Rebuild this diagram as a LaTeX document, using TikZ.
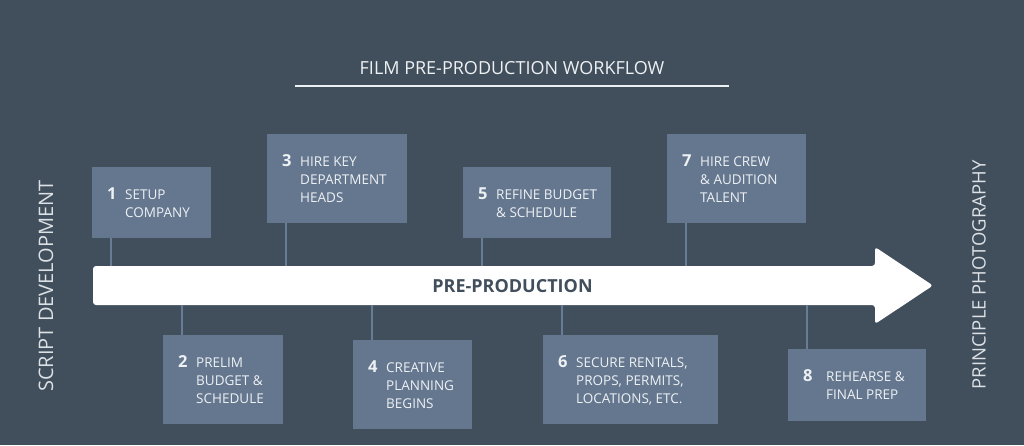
\documentclass[tikz,border=0pt]{standalone}
\usepackage{fontspec}
\setmainfont{Open Sans}
\usetikzlibrary{calc}
\definecolor{bgc}{RGB}{65,78,92}
\definecolor{boxc}{RGB}{100,119,143}
\definecolor{linec}{RGB}{104,124,150}
\definecolor{boxtext}{RGB}{238,241,244}
\definecolor{sidetext}{RGB}{220,225,230}
\definecolor{arrowtext}{RGB}{65,78,92}
\newcommand{\stepitem}[3][18pt]{%
  \makebox[#1][l]{\fontsize{16.5}{18}\selectfont\bfseries #2}%
  \fontsize{13.5}{18}\selectfont
  \begin{tabular}[t]{@{}l@{}}#3\end{tabular}}
\tikzset{
  stepbox/.style={fill=boxc, draw=none, inner sep=0pt, anchor=north west},
  steptext/.style={text=boxtext, inner sep=0pt, anchor=west, align=left},
  conn/.style={draw=linec, line width=1.6pt},
  sidelabel/.style={text=sidetext, rotate=90, inner sep=0pt},
}
\begin{document}
\begin{tikzpicture}[x=1pt,y=-1pt]
\useasboundingbox (0,0) rectangle (1024,445);
\fill[bgc] (0,0) rectangle (1024,445);

% title
\node[text=boxtext, font=\fontsize{18}{20}\selectfont, anchor=base, inner sep=0pt] (title) at (512,74) {FILM PRE-PRODUCTION WORKFLOW};
\draw[boxtext, line width=2pt] (295,86) -- (729,86);

% side labels
\node[sidelabel, font=\fontsize{20}{22}\selectfont] (script) at (46,286) {SCRIPT DEVELOPMENT};
\node[sidelabel, font=\fontsize{18.5}{20}\selectfont] (principle) at (979,275) {PRINCIPLE PHOTOGRAPHY};

% arrow
\coordinate (atop) at (0,266);
\coordinate (abot) at (0,305);
\fill[white, rounded corners=3pt] (93,266) -- (875,266) -- (875,247) -- (933,285.5) -- (875,324) -- (875,305) -- (93,305) -- cycle;
\node[text=arrowtext, font=\fontsize{18}{20}\selectfont\bfseries, anchor=base, inner sep=0pt] (pre) at (512.5,292) {PRE-PRODUCTION};

% boxes
\node[stepbox, minimum width=119pt, minimum height=71pt] (b1) at (92,167) {};
\node[stepbox, minimum width=120pt, minimum height=89pt] (b2) at (163,335) {};
\node[stepbox, minimum width=140pt, minimum height=89pt] (b3) at (267,134) {};
\node[stepbox, minimum width=119pt, minimum height=89pt] (b4) at (353,340) {};
\node[stepbox, minimum width=148pt, minimum height=71pt] (b5) at (463,167) {};
\node[stepbox, minimum width=175pt, minimum height=89pt] (b6) at (543,335) {};
\node[stepbox, minimum width=139pt, minimum height=89pt] (b7) at (667,134) {};
\node[stepbox, minimum width=138pt, minimum height=72pt] (b8) at (788,349) {};

% texts
\node[steptext] (t1) at ([xshift=15pt,yshift=-2pt]b1.west) {\stepitem{1}{SETUP\\COMPANY}};
\node[steptext] (t2) at ([xshift=15pt,yshift=-2pt]b2.west) {\stepitem{2}{PRELIM\\BUDGET \&\\SCHEDULE}};
\node[steptext] (t3) at ([xshift=15pt,yshift=-2pt]b3.west) {\stepitem{3}{HIRE KEY\\DEPARTMENT\\HEADS}};
\node[steptext] (t4) at ([xshift=15pt,yshift=-2pt]b4.west) {\stepitem{4}{CREATIVE\\PLANNING\\BEGINS}};
\node[steptext] (t5) at ([xshift=15pt,yshift=-2pt]b5.west) {\stepitem{5}{REFINE BUDGET\\\& SCHEDULE}};
\node[steptext] (t6) at ([xshift=15pt,yshift=-2pt]b6.west) {\stepitem{6}{SECURE RENTALS,\\PROPS, PERMITS,\\LOCATIONS, ETC.}};
\node[steptext] (t7) at ([xshift=15pt,yshift=-2pt]b7.west) {\stepitem{7}{HIRE CREW\\\& AUDITION\\TALENT}};
\node[steptext] (t8) at ([xshift=15pt,yshift=-2pt]b8.west) {\stepitem[23pt]{8}{REHEARSE \&\\FINAL PREP}};

% connectors
\foreach \b in {b1,b3,b5,b7}{
  \draw[conn] ([xshift=19pt]\b.south west) -- ([xshift=19pt]\b.south west |- atop);
}
\foreach \b in {b2,b4,b6,b8}{
  \draw[conn] ([xshift=19pt]\b.north west) -- ([xshift=19pt]\b.north west |- abot);
}
\end{tikzpicture}
\end{document}
